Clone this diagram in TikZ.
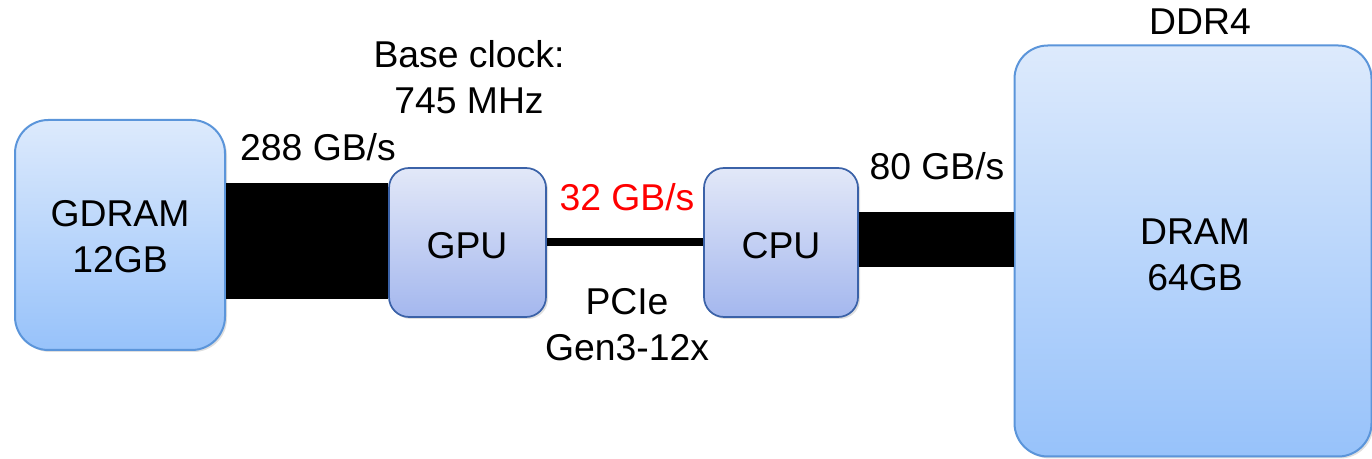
\documentclass[tikz,border=0pt]{standalone}
\usepackage{fontspec}
\setmainfont{Liberation Sans}
\usetikzlibrary{shadows}
\begin{document}
\begin{tikzpicture}[x=0.75pt,y=-0.75pt,
  txt/.style={font=\fontsize{28}{34.5}\selectfont, align=center, inner sep=0pt},
  membox/.style={draw=mem border, line width=1.5pt, rounded corners=25pt,
    top color=mem top, bottom color=mem bot, inner sep=0pt,
    drop shadow={shadow xshift=1.5pt, shadow yshift=-1.5pt, opacity=0.25}},
  procbox/.style={draw=proc border, line width=1.3pt, rounded corners=15pt,
    top color=proc top, bottom color=proc bot, inner sep=0pt,
    drop shadow={shadow xshift=1.5pt, shadow yshift=-1.5pt, opacity=0.25}},
  bus/.style={draw=black}]
\definecolor{mem border}{HTML}{5B95DA}
\definecolor{mem top}{HTML}{DDEAFC}
\definecolor{mem bot}{HTML}{97C2FA}
\definecolor{proc border}{HTML}{3B62A8}
\definecolor{proc top}{HTML}{E2E8F8}
\definecolor{proc bot}{HTML}{A4B7EE}
\useasboundingbox (0,0) rectangle (1372,459);
\node[membox, minimum width=210*0.75pt, minimum height=230*0.75pt] (gdram) at (120,235) {};
\node[procbox, minimum width=157*0.75pt, minimum height=149*0.75pt] (gpu) at (467.5,242.5) {};
\node[procbox, minimum width=154*0.75pt, minimum height=149*0.75pt] (cpu) at (781,242.5) {};
\node[membox, minimum width=357*0.75pt, minimum height=411*0.75pt] (dram) at (1193,251) {};
\draw[bus, line width=116*0.75pt] (gdram.east |- 0,241) -- (gpu.west |- 0,241);
\draw[bus, line width=8*0.75pt] (gpu.east |- 0,242) -- (cpu.west |- 0,242);
\draw[bus, line width=55*0.75pt] (cpu.east |- 0,240) -- (dram.west |- 0,240);
\node[txt] (gdramt) at (120,237) {GDRAM\\12GB};
\node[txt] (gput) at (467,246) {GPU};
\node[txt] (cput) at (781,246) {CPU};
\node[txt] (dramt) at (1195,255) {DRAM\\64GB};
\node[txt] (clock) at (469,77) {Base clock:\\745 MHz};
\node[txt] (bw1) at (318,147) {288 GB/s};
\node[txt, text=red] (bw2) at (627,197) {32 GB/s};
\node[txt] (bw3) at (937,166) {80 GB/s};
\node[txt] (pcie) at (627,325) {PCIe\\Gen3-12x};
\node[txt] (ddr) at (1200,22) {DDR4};
\end{tikzpicture}
\end{document}
